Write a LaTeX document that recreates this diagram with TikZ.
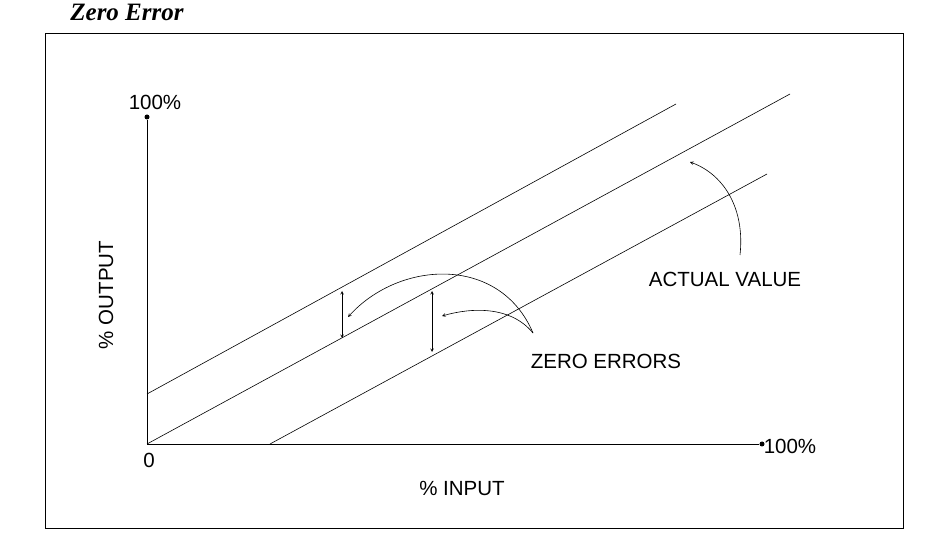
\documentclass[tikz,border=0pt]{standalone}
\usepackage{fontspec}
\setmainfont{Liberation Sans}
\newfontfamily\serifit{Liberation Serif}
\begin{document}
\begin{tikzpicture}[x=1pt,y=-1pt,line width=0.6pt,
  lbl/.style={inner sep=0pt,font=\fontsize{20.5}{22}\selectfont},
  dot/.style={circle,fill,inner sep=0pt,minimum size=5pt}]
\useasboundingbox (0,0) rectangle (932,534);
\draw (45,33) rectangle (903,528);
\node[inner sep=0pt,font=\serifit\bfseries\itshape\fontsize{25}{27}\selectfont] (t) at (127,12) {Zero Error};
\coordinate (o) at (147,444);
\node[dot] (ytop) at (147,117) {};
\node[dot] (xend) at (762,444) {};
\draw (ytop) -- (o) -- (xend);
\node[lbl] (l100y) at (155,102) {100\%};
\node[lbl] (l0) at (149,460) {0};
\node[lbl] (l100x) at (790,446) {100\%};
\node[lbl] (lin) at (462,488) {\% INPUT};
\node[lbl,rotate=90] (lout) at (106,295) {\% OUTPUT};
\node[lbl] (lav) at (725,279) {ACTUAL VALUE};
\node[lbl] (lze) at (606,361) {ZERO ERRORS};
\coordinate (u1) at (147,394); \coordinate (u2) at (676,104);
\coordinate (m2) at (790,94);
\coordinate (d1) at (270,444); \coordinate (d2) at (767,174);
\draw (u1) -- (u2);
\draw (o) -- (m2);
\draw (d1) -- (d2);
\coordinate (a1) at (342,291); \coordinate (a2) at (342,338);
\coordinate (b1) at (432,291); \coordinate (b2) at (432,352);
\draw[<->,>=stealth] (a1) -- (a2);
\draw[<->,>=stealth] (b1) -- (b2);
\coordinate (c0) at (533,333); \coordinate (c1) at (348,317); \coordinate (c2) at (442,316);
\draw[->,>=stealth] (c0) .. controls (500,255) and (400,260) .. (c1);
\draw[->,>=stealth] (c0) .. controls (510,305) and (470,308) .. (c2);
\coordinate (e0) at (740,255); \coordinate (e1) at (690,162);
\draw[->,>=stealth] (e0) .. controls (745,210) and (725,175) .. (e1);
\end{tikzpicture}
\end{document}
